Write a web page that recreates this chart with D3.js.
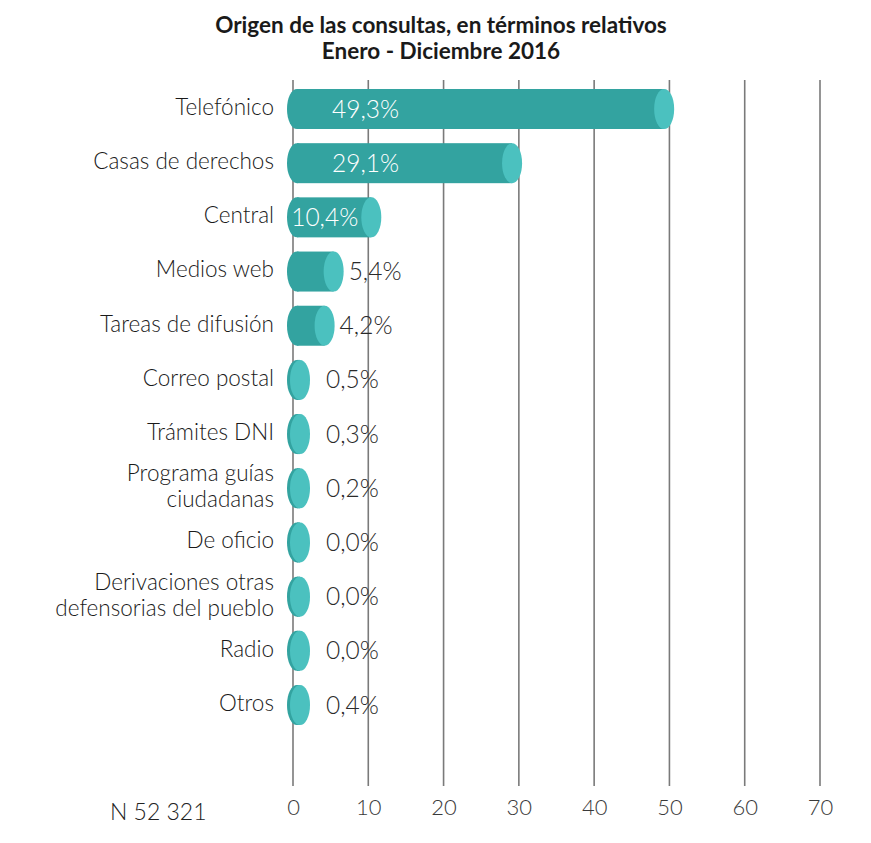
<!DOCTYPE html>
<html><head><meta charset="utf-8">
<script src="https://cdn.jsdelivr.net/npm/d3@7"></script>
<style>body{margin:0;background:#fff}svg{display:block}</style>
</head><body>
<script>
const categories = ["Telefónico","Casas de derechos","Central","Medios web","Tareas de difusión","Correo postal","Trámites DNI","Programa guías|ciudadanas","De oficio","Derivaciones otras|defensorias del pueblo","Radio","Otros"];
const values = [49.3,29.1,10.4,5.4,4.2,0.5,0.3,0.2,0.0,0.0,0.0,0.4];
const tickValues = [0,10,20,30,40,50,60,70];
const titleLines = ["Origen de las consultas, en términos relativos","Enero - Diciembre 2016"];
const noteText = "N 52 321";
const insideMin = 10;

const W = 871, H = 843;
const svg = d3.select("body").append("svg").attr("width", W).attr("height", H);
const x = d3.scaleLinear().domain([0,70]).range([293,820]);
const y = d3.scalePoint().domain(categories).range([109,705]);
const fmt = v => d3.format(".1f")(v).replace(".", ",") + "%";
const FONT = "Lato, 'Open Sans', sans-serif";
const bodyCol = "#33a3a0", capCol = "#4bc1bf";
const rx = 10, ry = 20;

// title
svg.append("g").selectAll("text").data(titleLines).join("text")
  .attr("x", 441).attr("y", (d,i)=>33 + i*26)
  .attr("text-anchor","middle").attr("font-family",FONT).attr("font-weight",700)
  .attr("font-size",22.5).attr("fill","#1a1a1a").text(d=>d);

// gridlines
svg.append("g").selectAll("line").data(tickValues).join("line")
  .attr("x1", d=>x(d)).attr("x2", d=>x(d)).attr("y1", 80).attr("y2", 786)
  .attr("stroke","#7a7a7a").attr("stroke-width",1.6);

// axis labels
const axis = d3.axisBottom(x).tickValues(tickValues).tickSize(0).tickPadding(0);
const ag = svg.append("g").attr("transform","translate(0,815)").call(axis);
ag.select(".domain").remove();
ag.selectAll("text").attr("font-family",FONT).attr("font-weight",300).attr("font-size",22)
  .attr("fill","#3a3a3a").attr("dy",0).attr("y",0);

svg.append("text").attr("x",110).attr("y",820).attr("font-family",FONT).attr("font-weight",300)
  .attr("font-size",23).attr("fill","#222").text(noteText);

// bars
const xs = x(0) + 4;
const rows = svg.append("g").selectAll("g").data(categories.map((c,i)=>({c, v: values[i]}))).join("g")
  .attr("transform", d=>`translate(0,${y(d.c)})`);
rows.each(function(d){
  const g = d3.select(this);
  const xc = Math.max(x(d.v), xs + 3);
  g.append("ellipse").attr("cx", xs).attr("cy",0).attr("rx",rx).attr("ry",ry).attr("fill",bodyCol);
  g.append("rect").attr("x", xs).attr("y",-ry).attr("width", xc - xs).attr("height", ry*2).attr("fill",bodyCol);
  g.append("ellipse").attr("cx", xc).attr("cy",0).attr("rx",rx).attr("ry",ry).attr("fill",capCol);
  const t = g.append("text").attr("font-family",FONT).attr("font-weight",300).attr("font-size",24.5)
    .attr("dy","0.35em").text(fmt(d.v));
  if (d.v >= insideMin) {
    const w = t.node().getComputedTextLength();
    const tx = Math.min(x(0)+39, xc - rx - 3 - w);
    t.attr("x", tx).attr("fill","#fff");
  } else {
    t.attr("x", Math.max(xc + rx + 5, x(0)+33)).attr("fill","#2a2a2a");
  }
  // category label
  const lines = d.c.split("|");
  lines.forEach((ln,i)=>{
    g.append("text").attr("text-anchor","end").attr("font-family",FONT).attr("font-weight",300)
      .attr("font-size",22.5).attr("fill","#1a1a1a")
      .attr("x",274).attr("y", (i - (lines.length-1)/2)*26 - 2).attr("dy","0.35em").text(ln);
  });
});
</script>
</body></html>
